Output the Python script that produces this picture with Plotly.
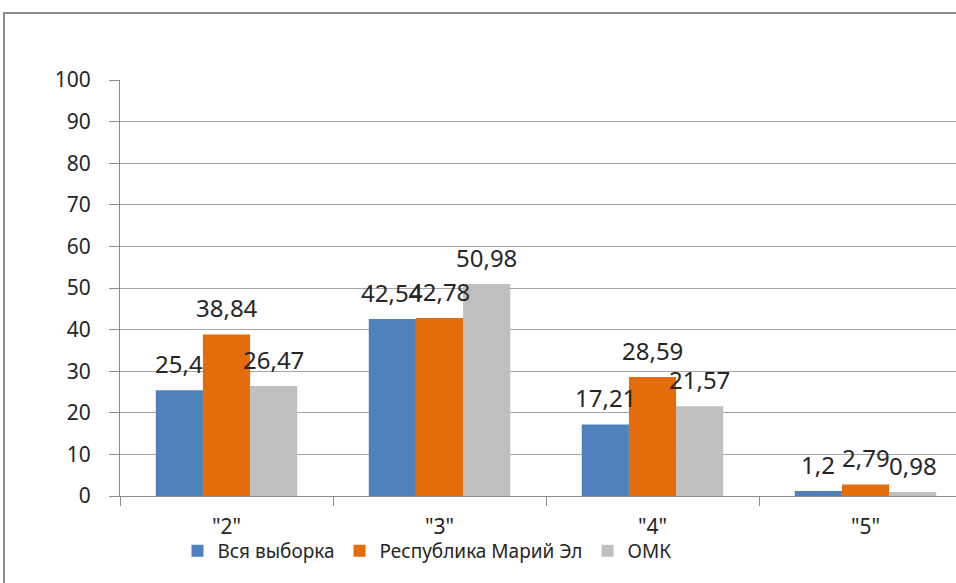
import plotly.graph_objects as go

categories = ['"2"', '"3"', '"4"', '"5"']
series_names = ["Вся выборка", "Республика Марий Эл", "ОМК"]
vals_all = [25.4, 42.54, 17.21, 1.2]
vals_mari = [38.84, 42.78, 28.59, 2.79]
vals_omk = [26.47, 50.98, 21.57, 0.98]
y_ticks = [0, 10, 20, 30, 40, 50, 60, 70, 80, 90, 100]

colors = ["#4F81BD", "#E46C0A", "#BFBFBF"]
series = [vals_all, vals_mari, vals_omk]

W, H = 956, 583
ML, MR, MT, MB = 120, 0, 80, 87
cat_px = 213.0
bargap = 0.336
plot_w = W - ML - MR
plot_h = H - MT - MB
span = plot_w / cat_px
bar_px = cat_px * (1 - bargap) / 3

FONT = "Noto Sans"

fig = go.Figure()
for name, vals, col in zip(series_names, series, colors):
    fig.add_trace(go.Bar(x=categories, y=vals, name=name, marker=dict(color=col, line=dict(width=0))))

annotations = []
for i, vals in enumerate(series):
    for c, v in zip(categories, vals):
        annotations.append(dict(
            x=c, y=v, xref="x", yref="y", text=f"{v:g}".replace(".", ","),
            showarrow=False, xanchor="center", yanchor="bottom",
            xshift=(i - 1) * bar_px, yshift=8,
            font=dict(family=FONT, size=24, color="#262626"),
        ))

# outer chart border (partially cropped in reference)
bx = (4 - ML) / plot_w
by = 1 + (MT - 13) / plot_h
shapes = [dict(type="rect", xref="paper", yref="paper", x0=bx, y0=-1, x1=2, y1=by,
               line=dict(color="#8C8C8C", width=2), fillcolor="rgba(0,0,0,0)", layer="below")]

fig.update_layout(
    width=W, height=H,
    margin=dict(l=ML, r=MR, t=MT, b=MB, pad=0),
    paper_bgcolor="white", plot_bgcolor="white",
    barmode="group", bargap=bargap, bargroupgap=0,
    font=dict(family=FONT, size=21, color="#404040"),
    showlegend=True,
    legend=dict(orientation="h", x=(427 - ML) / plot_w, xanchor="center",
                y=-(551 - (H - MB)) / plot_h, yanchor="middle",
                font=dict(family=FONT, size=19, color="#262626"),
                bgcolor="rgba(0,0,0,0)", itemwidth=30),
    xaxis=dict(type="category", range=[-0.5, -0.5 + span], showgrid=False,
               showline=True, linecolor="#8C8C8C", linewidth=1,
               ticks="outside", tickson="boundaries", ticklen=9, tickcolor="#8C8C8C",
               ticklabelstandoff=12,
               tickfont=dict(family=FONT, size=21, color="#262626")),
    yaxis=dict(range=[0, 100], tickvals=y_ticks, showgrid=True, gridcolor="#A6A6A6", gridwidth=1,
               showline=True, linecolor="#8C8C8C", linewidth=1,
               ticks="outside", ticklen=10, tickcolor="#8C8C8C",
               zeroline=False, ticklabelstandoff=14,
               tickfont=dict(family=FONT, size=21, color="#262626")),
    annotations=annotations,
    shapes=shapes,
)

fig.write_html("out.html", config={"displayModeBar": False},
               post_script="document.body.style.margin='0';document.body.style.overflow='hidden';")
